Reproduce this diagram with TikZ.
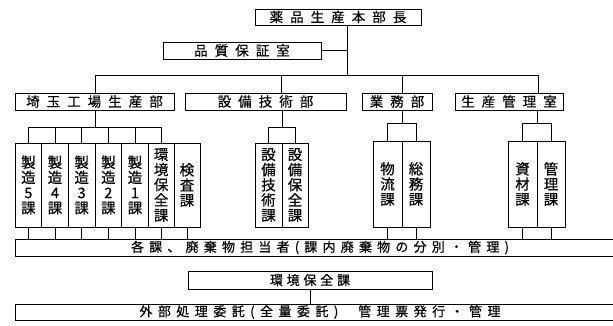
\documentclass[tikz,border=0pt]{standalone}
\usepackage{fontspec}
\newfontfamily\jpv{Noto Sans CJK JP}[FakeBold=0.5]
\newfontfamily\jphead{Noto Sans CJK JP}[LetterSpace=52,FakeBold=0.5]
\newfontfamily\jpbot{Noto Sans CJK JP}[LetterSpace=40,FakeBold=0.5]
\newfontfamily\jpenv{Noto Sans CJK JP}[LetterSpace=29,FakeBold=0.5]
\newfontfamily\jpext{Noto Sans CJK JP}[LetterSpace=42,FakeBold=0.5]
\newcommand\orgbox[7][]{%
  \node[box,#1,minimum width={#5-#3},minimum height={#6-#4}] (#2) at ({(#3+#5)/2},{(#4+#6)/2}) {#7};}
\begin{document}
\begin{tikzpicture}[x=1pt,y=-1pt,line width=0.9pt,
  box/.style={draw,inner sep=0pt,line width=0.9pt},
  head/.style={font=\jphead\fontsize{13.5}{15}\selectfont},
  vert/.style={align=center,font=\jpv\fontsize{14.5}{15.2}\selectfont},
  bot/.style={font=\jpbot\fontsize{13}{15}\selectfont},
  envf/.style={font=\jpenv\fontsize{13}{15}\selectfont},
  extf/.style={font=\jpext\fontsize{13}{15}\selectfont}]
\useasboundingbox (0,0) rectangle (613,325);
\begin{scope}
\clip (0,0) rectangle (613,325);
% top level
\orgbox[head]{top}{255}{9}{421}{25}{薬品生産本部長}
\orgbox[head]{qa}{163}{42}{321}{59}{品質保証室}
\orgbox[head]{d1}{15}{93}{174}{110}{埼玉工場生産部}
\orgbox[head]{d2}{185}{93}{346}{110}{設備技術部}
\orgbox[head]{d3}{362}{93}{432}{110}{業務部}
\orgbox[head]{d4}{455}{93}{563}{110}{生産管理室}
% sections
\orgbox[vert]{a1}{15}{143}{41.7}{227}{製\\造\\5\\課}
\orgbox[vert]{a2}{41.7}{143}{68.3}{227}{製\\造\\4\\課}
\orgbox[vert]{a3}{68.3}{143}{95}{227}{製\\造\\3\\課}
\orgbox[vert]{a4}{95}{143}{121.7}{227}{製\\造\\2\\課}
\orgbox[vert]{a5}{121.7}{143}{148.3}{227}{製\\造\\1\\課}
\orgbox[vert]{a6}{148.3}{143}{174}{227}{環\\境\\保\\全\\課}
\orgbox[vert]{a7}{174}{143}{200}{227}{検\\査\\課}
\orgbox[vert]{b1}{255}{143}{282}{227}{設\\備\\技\\術\\課}
\orgbox[vert]{b2}{282}{143}{308}{227}{設\\備\\保\\全\\課}
\orgbox[vert]{c1}{373}{141}{402}{227}{物\\流\\課}
\orgbox[vert]{c2}{402}{141}{430}{227}{総\\務\\課}
\orgbox[vert]{p1}{508}{141}{537}{227}{資\\材\\課}
\orgbox[vert]{p2}{537}{141}{565}{227}{管\\理\\課}
% bottom
\orgbox[bot]{all}{15}{239}{625}{256}{各課、廃棄物担当者(課内廃棄物の分別・管理)}
\orgbox[envf]{env}{188}{271}{432}{289}{環境保全課}
\orgbox[extf]{ext}{15}{304}{625}{320}{外部処理委託(全量委託)\hspace{20pt}管理票発行・管理}
% main connectors
\coordinate (m) at (347,75);
\draw (top.south -| m) -- (m);
\draw (qa.east) -- (qa.east -| m);
\coordinate (bl) at (95,75);
\coordinate (br) at (538,75);
\draw (bl) -- (br);
\draw (bl) -- (d1.north -| bl);
\coordinate (b2x) at (281,75);
\draw (b2x) -- (d2.north -| b2x);
\coordinate (b3x) at (402,75);
\draw (b3x) -- (d3.north -| b3x);
\draw (br) -- (d4.north -| br);
% group A
\coordinate (ja) at (95,127);
\draw (d1.south -| ja) -- (ja);
\draw (a1.north |- ja) -- (a6.north |- ja);
\foreach \n in {a1,a2,a3,a4,a5,a6} \draw (\n.north) -- (\n.north |- ja);
% group B
\coordinate (jb) at (282,127);
\draw (d2.south -| jb) -- (jb);
\draw (b1.north |- jb) -- (b2.north |- jb);
\foreach \n in {b1,b2} \draw (\n.north) -- (\n.north |- jb);
% group C
\coordinate (jc) at (402,123);
\draw (d3.south -| jc) -- (jc);
\draw (c1.north |- jc) -- (c2.north |- jc);
\foreach \n in {c1,c2} \draw (\n.north) -- (\n.north |- jc);
% group D
\coordinate (jd) at (537,123);
\draw (d4.south -| jd) -- (jd);
\draw (p1.north |- jd) -- (p2.north |- jd);
\foreach \n in {p1,p2} \draw (\n.north) -- (\n.north |- jd);
% to bottom box
\foreach \n in {a1,a2,a3,a4,a5,a6,a7,c1,c2,p1,p2} \draw (\n.south) -- (\n.south |- all.north);
\draw (env.south) -- (env.south |- ext.north);
\end{scope}
\end{tikzpicture}
\end{document}
